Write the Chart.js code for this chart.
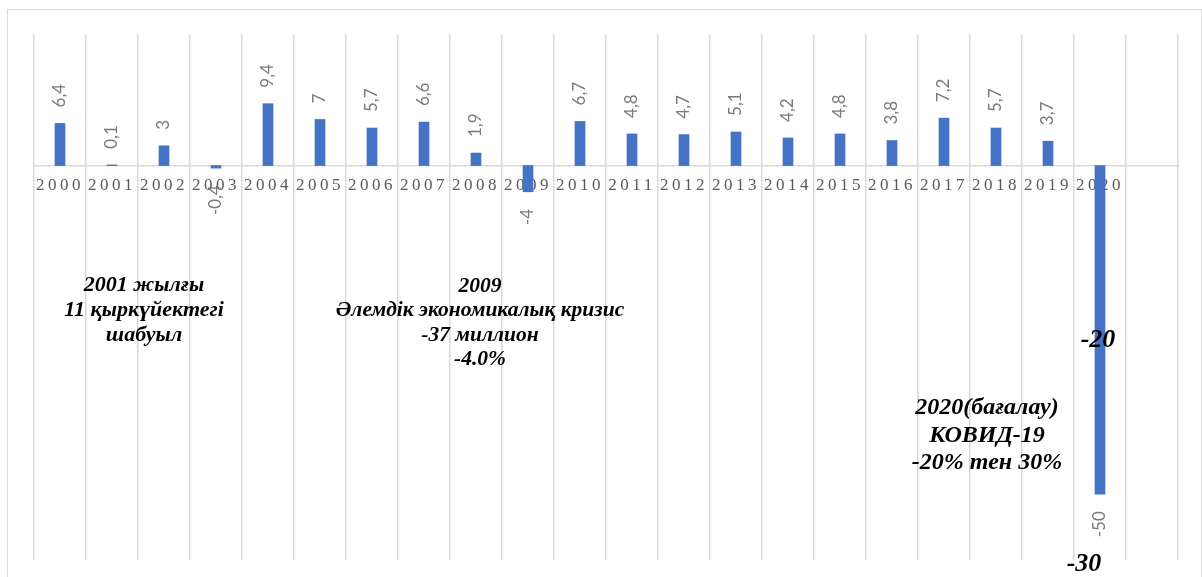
<!DOCTYPE html>
<html>
<head>
<meta charset="utf-8">
<script src="https://cdn.jsdelivr.net/npm/chart.js@4.4.0/dist/chart.umd.min.js"></script>
<style>
  html, body { margin: 0; padding: 0; background: #fff; overflow: hidden; }
  #frame { position: absolute; left: 7px; top: 9px; width: 1193px; height: 600px; border: 1px solid #d9d9d9; }
  #wrap { position: absolute; left: 0; top: 0; width: 1202px; height: 577px; }
</style>
</head>
<body>
<div id="frame"></div>
<div id="wrap"><canvas id="growthChart"></canvas></div>
<script>
// Categories (last one is an empty slot, as in the original chart)
const years = ['2000', '2001', '2002', '2003', '2004', '2005', '2006', '2007', '2008', '2009', '2010',
    '2011', '2012', '2013', '2014', '2015', '2016', '2017', '2018', '2019', '2020', ''];

// Growth values per year (%)
const growth = [6.4, 0.1, 3, -0.4, 9.4, 7, 5.7, 6.6, 1.9, -4, 6.7,
    4.8, 4.7, 5.1, 4.2, 4.8, 3.8, 7.2, 5.7, 3.7, -50, null];

// Axis range
const yMin = -60;
const yMax = 20;

// Annotation texts
const note2001 = ['2001 жылғы', '11 қыркүйектегі', 'шабуыл'];
const note2009 = ['2009', 'Әлемдік экономикалық кризис', '-37 миллион', '-4.0%'];
const note2020 = ['2020(бағалау)', 'КОВИД-19', '-20% тен 30%'];
const markLow = ['-20', '-30'];

// Letter spacing for the year labels (Chart.js has no option for it)
const spacingPlugin = {
    id: 'spacing',
    beforeDraw(chart) {
        chart.ctx.letterSpacing = '3.5px';
    },
    beforeDatasetsDraw(chart) {
        chart.ctx.letterSpacing = '0px';
    }
};

// Rotated value labels above / below the bars
const valueLabels = {
    id: 'valueLabels',
    afterDatasetsDraw(chart) {
        const ctx = chart.ctx;
        const meta = chart.getDatasetMeta(0);
        ctx.save();
        ctx.font = '17px Lato, "Open Sans", sans-serif';
        ctx.fillStyle = '#7a7a7a';
        ctx.textBaseline = 'middle';
        meta.data.forEach((bar, i) => {
            const v = growth[i];
            if (v === null) return;
            const txt = String(v).replace('.', ',');
            ctx.save();
            if (v >= 0) {
                ctx.translate(bar.x, bar.y - 16);
                ctx.rotate(-Math.PI / 2);
                ctx.textAlign = 'left';
            } else {
                ctx.translate(bar.x, bar.y + 17);
                ctx.rotate(-Math.PI / 2);
                ctx.textAlign = 'right';
            }
            ctx.fillText(txt, 0, 0);
            ctx.restore();
        });
        ctx.restore();
    }
};

// Text notes written on the chart
const notesPlugin = {
    id: 'notes',
    afterDraw(chart) {
        const ctx = chart.ctx;
        const serif = '"Liberation Serif", "DejaVu Serif", serif';
        ctx.save();
        ctx.fillStyle = '#000';
        ctx.textAlign = 'center';
        ctx.textBaseline = 'middle';
        ctx.font = 'italic bold 22px ' + serif;
        note2001.forEach((t, i) => ctx.fillText(t, 144, 285 + i * 25));
        ctx.font = 'italic bold 21.5px ' + serif;
        note2009.forEach((t, i) => ctx.fillText(t, 480, 286 + i * 24.5));
        ctx.font = 'italic bold 24px ' + serif;
        note2020.forEach((t, i) => ctx.fillText(t, 987, 408 + i * 27.5));
        ctx.font = 'italic bold 26px ' + serif;
        ctx.fillText(markLow[0], 1098, 340);
        ctx.fillText(markLow[1], 1084, 564);
        ctx.restore();
    }
};

const ctx = document.getElementById('growthChart').getContext('2d');

const chart = new Chart(ctx, {
    type: 'bar',
    data: {
        labels: years,
        datasets: [{
            data: growth,
            backgroundColor: '#4472c4',
            borderWidth: 0,
            barThickness: 10
        }]
    },
    options: {
        responsive: true,
        maintainAspectRatio: false,
        animation: false,
        layout: {
            padding: { left: 34, top: 34, right: 24, bottom: 17 }
        },
        scales: {
            x: {
                position: { y: 0 },
                offset: true,
                grid: {
                    display: true,
                    offset: true,
                    color: '#d9d9d9',
                    lineWidth: 1.5,
                    drawTicks: false
                },
                border: { display: true, color: '#d9d9d9', width: 1.5 },
                ticks: {
                    padding: 10,
                    maxRotation: 0,
                    autoSkip: false,
                    color: '#595959',
                    font: { family: '"Liberation Serif", "DejaVu Serif", serif', size: 17 }
                }
            },
            y: {
                display: false,
                min: yMin,
                max: yMax
            }
        },
        plugins: {
            legend: { display: false },
            tooltip: { enabled: false }
        }
    },
    plugins: [spacingPlugin, valueLabels, notesPlugin]
});
</script>
</body>
</html>
